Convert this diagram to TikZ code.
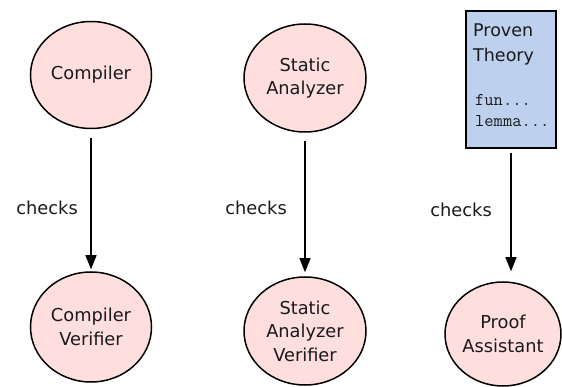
\documentclass[tikz,border=0pt]{standalone}
\usepackage{fontspec}
\setmainfont{DejaVu Sans}
\usetikzlibrary{shapes.geometric,arrows.meta}
\definecolor{nodepink}{HTML}{FFDEDE}
\definecolor{boxblue}{HTML}{BDD1EE}
\definecolor{txt}{HTML}{1A1A1A}
\tikzset{
  tool/.style={ellipse, draw=black, line width=1.5pt, fill=nodepink, inner sep=0pt,
    align=center, text=txt, font=\fontsize{17.8}{23.5}\selectfont},
  checkarrow/.style={-{Triangle[length=14pt,width=11pt]}, line width=1.3pt, black},
  checklabel/.style={anchor=east, inner sep=0pt, text=txt, font=\fontsize{17.8}{20}\selectfont},
  theorybox/.style={draw=black, line width=1.3pt, fill=boxblue}
}
\begin{document}
\begin{tikzpicture}[x=1pt,y=-1pt]
\useasboundingbox (0,0) rectangle (562,387);
% left column
\node[tool, minimum width=121pt, minimum height=107pt] (comp) at (91,75) {Compiler};
\node[tool, minimum width=121pt, minimum height=110pt] (compv) at (91,327) {Compiler\\Verifier};
% middle column
\node[tool, minimum width=122pt, minimum height=108pt] (sa) at (305,78) {Static\\Analyzer};
\node[tool, minimum width=122pt, minimum height=108pt] (sav) at (305,331) {Static\\Analyzer\\Verifier};
% right column
\node[theorybox, minimum width=90pt, minimum height=137pt, inner sep=0pt] (box) at (511,79.5) {};
\node[anchor=north west, align=left, inner sep=0pt, text=txt, font=\fontsize{17.5}{25}\selectfont] (boxtitle) at (473,24) {Proven\\Theory};
\node[anchor=north west, align=left, inner sep=0pt, text=txt, font=\fontsize{18}{21}\ttfamily] (boxcode) at (475,94) {fun...\\lemma...};
\node[tool, minimum width=116pt, minimum height=104pt] (pa) at (503,334) {Proof\\Assistant};
% arrows
\draw[checkarrow, shorten <=9pt, shorten >=2pt] (comp.south) -- (compv.north);
\draw[checkarrow, shorten <=8pt, shorten >=4pt] (sa.south) -- (sav.north);
\coordinate (patop) at (box.south |- pa.north);
\draw[checkarrow, shorten <=4pt, shorten >=10pt] (box.south) -- (patop);
% labels
\node[checklabel] (l1) at (78,208) {checks};
\node[checklabel] (l2) at (287,208) {checks};
\node[checklabel] (l3) at (492,210) {checks};
\end{tikzpicture}
\end{document}
